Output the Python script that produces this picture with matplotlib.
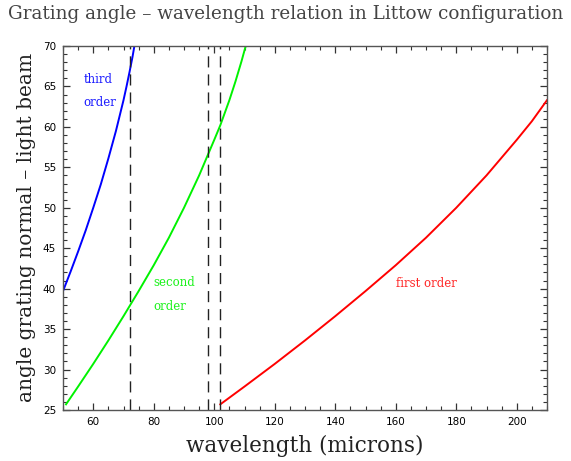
import matplotlib
matplotlib.use("Agg")
import matplotlib.pyplot as plt
from matplotlib.ticker import MultipleLocator

# wavelength (microns) and grating angle (deg)
first_wl = [102, 110, 120, 130, 140, 150, 160, 170, 180, 190, 200, 205, 210]
first_ang = [25.7, 27.9, 30.7, 33.6, 36.6, 39.7, 42.9, 46.3, 50.0, 54.0, 58.4, 60.7, 63.3]

second_wl = [51, 55, 60, 65, 70, 75, 80, 85, 90, 95, 100, 102, 105, 107, 109, 110.4]
second_ang = [25.7, 27.9, 30.7, 33.6, 36.6, 39.7, 42.9, 46.3, 50.0, 54.0, 58.4, 60.2, 63.3, 65.6, 68.1, 70.0]

third_wl = [50, 52.5, 55, 57.5, 60, 62.5, 65, 67.5, 70, 71, 72, 73, 73.6]
third_ang = [39.7, 42.1, 44.6, 47.2, 50.0, 52.9, 56.1, 59.5, 63.3, 65.0, 66.8, 68.7, 70.0]

marker_wl = [72, 98, 102]

title = "Grating angle \u2013 wavelength relation in Littow configuration"
xlabel = "wavelength (microns)"
ylabel = "angle grating normal \u2013 light beam"

fig = plt.figure(figsize=(5.71, 4.61), dpi=100)
ax = fig.add_axes([63/571, 1-410/461, (547-63)/571, (410-46)/461])

ax.plot(first_wl, first_ang, color=(1, 0, 0), lw=1.4)
ax.plot(second_wl, second_ang, color=(0, 0.95, 0), lw=1.4)
ax.plot(third_wl, third_ang, color=(0, 0, 1), lw=1.4)
for w in marker_wl:
    ax.axvline(w, color="#222222", lw=1.0, dashes=(8, 5))

ax.set_xlim(50, 210)
ax.set_ylim(25, 70)
ax.xaxis.set_major_locator(MultipleLocator(20))
ax.xaxis.set_minor_locator(MultipleLocator(5))
ax.yaxis.set_major_locator(MultipleLocator(5))
ax.yaxis.set_minor_locator(MultipleLocator(1))
ax.tick_params(which="both", direction="in", top=True, right=True,
               labelsize=7.5, colors="#333333", labelcolor="black")
ax.tick_params(which="major", length=5, width=0.9, pad=5)
ax.tick_params(which="minor", length=3, width=0.8)
for s in ax.spines.values():
    s.set_color("#555555")
    s.set_linewidth(1.0)

serif = ["DejaVu Serif"]
ax.text(56.9, 65.8, "third", color=(0.1, 0.1, 1), fontsize=8.5, family=serif, va="center")
ax.text(56.9, 63.0, "order", color=(0.1, 0.1, 1), fontsize=8.5, family=serif, va="center")
ax.text(80.0, 40.8, "second", color=(0.1, 0.95, 0.1), fontsize=8.5, family=serif, va="center")
ax.text(80.0, 37.8, "order", color=(0.1, 0.95, 0.1), fontsize=8.5, family=serif, va="center")
ax.text(160.1, 40.7, "first order", color=(1, 0.15, 0.15), fontsize=8.5, family=serif, va="center")

fig.text(0.5, 1-14/461, title, ha="center", va="center", fontsize=13.2,
         family=serif, color="#444444")
fig.text(305/571, 1-446/461, xlabel, ha="center", va="center", fontsize=15.5,
         family=serif, color="#222222")
fig.text(27/571, 1-227/461, ylabel, ha="center", va="center", fontsize=14.5,
         family=serif, color="#222222", rotation=90)

fig.savefig("out.png", dpi=100)
